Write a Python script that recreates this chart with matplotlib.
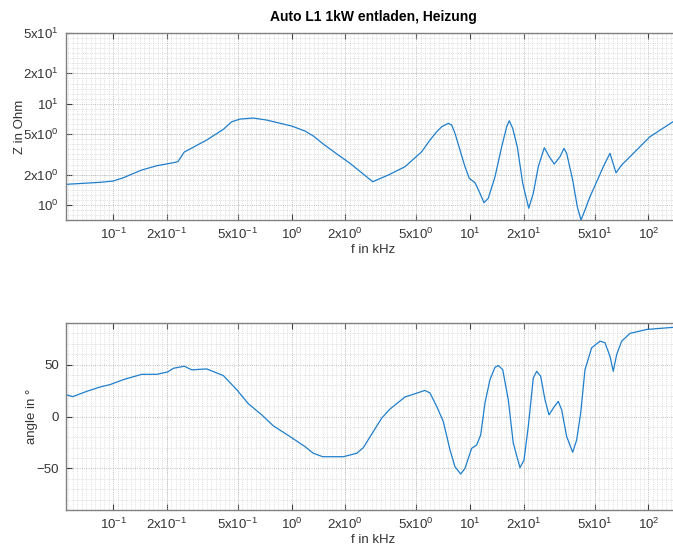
import numpy as np
import matplotlib
matplotlib.use("Agg")
import matplotlib.pyplot as plt
from matplotlib.ticker import FixedLocator, MultipleLocator, NullFormatter

plt.rcParams["font.family"] = ["Liberation Sans", "DejaVu Sans"]
plt.rcParams["mathtext.default"] = "regular"

# Impedance magnitude |Z| over frequency
f_mag = [0.0545, 0.0846, 0.1004, 0.1142, 0.1448, 0.1757, 0.2177, 0.2312, 0.2507,
         0.3348, 0.4148, 0.4624, 0.5145, 0.6109, 0.7264, 1.0025, 1.190, 1.325,
         1.507, 1.829, 2.127, 2.850, 3.485, 4.324, 5.362, 5.969, 6.508, 6.941,
         7.556, 7.896, 8.241, 8.790, 9.376, 9.910, 10.67, 11.27, 11.98, 12.66,
         13.81, 15.05, 16.05, 16.60, 17.35, 18.41, 19.74, 21.33, 22.63, 24.13,
         26.09, 27.82, 29.67, 31.93, 33.62, 34.81, 37.61, 39.92, 41.87, 44.09,
         47.02, 51.28, 55.84, 60.85, 65.76, 70.77, 78.78, 101.9, 137.2, 150.2]
z_mag = [1.60, 1.675, 1.726, 1.86, 2.216, 2.443, 2.616, 2.688, 3.336,
         4.382, 5.589, 6.642, 7.063, 7.225, 6.903, 6.025, 5.377, 4.800,
         4.001, 3.116, 2.580, 1.698, 1.978, 2.388, 3.359, 4.382, 5.291, 5.930,
         6.406, 6.164, 5.104, 3.491, 2.388, 1.835, 1.660, 1.353, 1.054, 1.165,
         1.903, 3.763, 5.930, 6.796, 5.717, 3.763, 1.638, 0.928, 1.305, 2.388,
         3.679, 2.998, 2.540, 2.998, 3.629, 3.238, 1.766, 0.962, 0.711, 0.893,
         1.208, 1.698, 2.388, 3.238, 2.084, 2.483, 2.998, 4.724, 6.642, 7.225]

# Phase angle over frequency
f_ang = [0.0545, 0.0594, 0.0712, 0.0846, 0.0962, 0.1142, 0.1448, 0.1757, 0.2025,
         0.2177, 0.2507, 0.2760, 0.3348, 0.4148, 0.4932, 0.5728, 0.6808, 0.7907,
         0.9808, 1.190, 1.325, 1.495, 1.951, 2.319, 2.525, 2.873, 3.202, 3.563,
         4.324, 5.597, 5.969, 6.508, 7.085, 7.727, 8.241, 8.870, 9.376, 10.22,
         10.90, 11.48, 12.13, 12.94, 13.81, 14.40, 15.25, 16.39, 17.48, 19.06,
         20.07, 21.21, 22.63, 23.64, 24.89, 26.32, 27.71, 29.55, 31.23, 32.63,
         34.81, 37.61, 39.61, 41.71, 44.09, 48.06, 53.49, 57.05, 60.85, 63.50,
         66.35, 70.77, 78.78, 97.7, 137.2, 150.2]
angle = [21.0, 19.1, 24.2, 28.4, 30.7, 35.5, 40.6, 40.6, 42.9,
         46.4, 48.4, 44.9, 45.8, 39.4, 25.8, 12.3, 1.6, -9.0,
         -19.3, -29.0, -35.4, -38.7, -38.7, -35.4, -30.0, -14.5, -1.5, 7.2,
         18.8, 25.1, 22.6, 9.7, -4.8, -32.2, -48.4, -55.4, -49.9, -30.6,
         -27.4, -17.7, 13.0, 35.5, 47.4, 49.0, 45.2, 16.1, -25.7, -49.3,
         -41.9, -9.7, 37.1, 43.5, 38.7, 16.1, 1.6, 9.1, 14.5, 6.5,
         -19.3, -34.4, -22.5, 3.3, 45.2, 66.1, 72.5, 71.0, 58.0, 43.5,
         59.7, 72.5, 80.0, 83.8, 85.8, 86.3]

x_ticks = [0.1, 0.2, 0.5, 1, 2, 5, 10, 20, 50, 100]
x_labels = ["10$^{-1}$", "2x10$^{-1}$", "5x10$^{-1}$", "10$^{0}$", "2x10$^{0}$",
            "5x10$^{0}$", "10$^{1}$", "2x10$^{1}$", "5x10$^{1}$", "10$^{2}$"]
z_ticks = [1, 2, 5, 10, 20, 50]
z_labels = ["10$^{0}$", "2x10$^{0}$", "5x10$^{0}$", "10$^{1}$", "2x10$^{1}$", "5x10$^{1}$"]
ang_ticks = [-50, 0, 50]

LINE = "#1f7fcc"
TEXT = "#333333"
FRAME = "#808080"

fig = plt.figure(figsize=(6.73, 5.52), dpi=100)
W, H = 673, 552
ax1 = fig.add_axes([66 / W, 1 - 220 / H, 614 / W, 187 / H])
ax2 = fig.add_axes([66 / W, 1 - 510 / H, 614 / W, 187 / H])


def style(ax):
    ax.set_xscale("log")
    ax.set_xlim(0.0545, 150.2)
    ax.set_xticks(x_ticks)
    ax.set_xticklabels(x_labels)
    ax.xaxis.set_minor_locator(FixedLocator(10 ** np.arange(-1.4, 2.3, 1 / 40)))
    ax.xaxis.set_minor_formatter(NullFormatter())
    ax.tick_params(which="major", direction="in", top=True, right=True,
                   length=4, width=0.8, color="#404040", labelsize=9.5,
                   labelcolor=TEXT, pad=5)
    ax.tick_params(which="minor", length=0)
    ax.grid(True, which="major", linestyle=":", color="#aaaaaa", linewidth=0.6)
    ax.grid(True, which="minor", linestyle=":", color="#c8c8c8", linewidth=0.5)
    ax.set_axisbelow(True)
    for sp in ax.spines.values():
        sp.set_color(FRAME)
        sp.set_linewidth(1.0)
    ax.set_xlabel("f in kHz", fontsize=9.5, color=TEXT, labelpad=1)


ax1.plot(f_mag, z_mag, color=LINE, linewidth=0.9)
style(ax1)
ax1.set_yscale("log")
ax1.set_ylim(0.711, 50)
ax1.set_yticks(z_ticks)
ax1.set_yticklabels(z_labels)
ax1.yaxis.set_minor_locator(FixedLocator(10 ** np.arange(-0.2, 1.8, 1 / 20)))
ax1.yaxis.set_minor_formatter(NullFormatter())
ax1.set_ylabel("Z in Ohm", fontsize=9.5, color=TEXT, labelpad=-2)
ax1.set_title("Auto L1 1kW entladen, Heizung", fontsize=10, fontweight="bold",
              color="#000000", pad=9)

ax2.plot(f_ang, angle, color=LINE, linewidth=0.9)
style(ax2)
ax2.set_ylim(-90, 90)
ax2.set_yticks(ang_ticks)
ax2.yaxis.set_minor_locator(MultipleLocator(10))
ax2.set_ylabel("angle in °", fontsize=9.5, color=TEXT, labelpad=-1)

fig.savefig("out.png", dpi=100)
